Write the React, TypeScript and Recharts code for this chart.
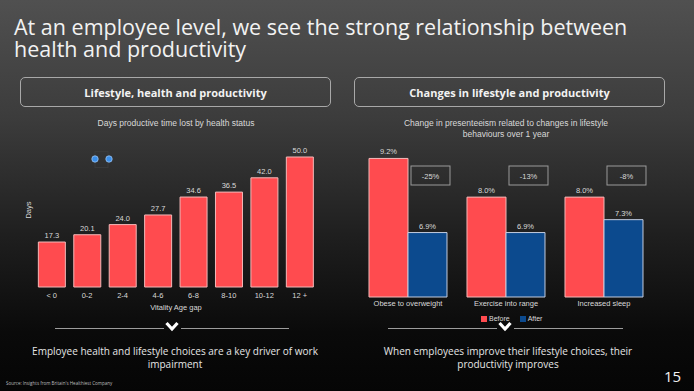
import { Bar, BarChart, LabelList, Legend, XAxis, YAxis } from "recharts";

const ageGaps = ["< 0", "0-2", "2-4", "4-6", "6-8", "8-10", "10-12", "12 +"];
const daysLost = [17.3, 20.1, 24.0, 27.7, 34.6, 36.5, 42.0, 50.0];

const behaviours = ["Obese to overweight", "Exercise into range", "Increased sleep"];
const beforeValues = [9.2, 8.0, 8.0];
const afterValues = [6.9, 6.9, 7.3];
const changeLabels = ["-25%", "-13%", "-8%"];

const RED = "#ff4b4f";
const BLUE = "#0c4a8e";
const TEXT = "#d9d9d9";
const CHART_FONT = "'Liberation Sans', Arial, sans-serif";
const SLIDE_FONT = "'Open Sans', 'Noto Sans', sans-serif";

const daysData = ageGaps.map((gap, i) => ({ gap, days: daysLost[i] }));
const changeData = behaviours.map((name, i) => ({
  name,
  before: beforeValues[i],
  after: afterValues[i],
  change: changeLabels[i],
}));

const legendOrder = ["Before", "After"];

function ChangeBox(props: any) {
  const { x, width, value } = props;
  return (
    <g>
      <rect x={x + 3} y={166} width={width} height={19} fill="none" stroke="#9a9a9a" strokeWidth={1} />
      <text
        x={x + 3 + width / 2}
        y={178.5}
        textAnchor="middle"
        fontSize={7.5}
        fill={TEXT}
        fontFamily={CHART_FONT}
      >
        {value}
      </text>
    </g>
  );
}

function Chevron({ cx }: { cx: number }) {
  return (
    <svg style={{ position: "absolute", left: cx - 7, top: 321, overflow: "visible" }} width={14} height={12}>
      <polyline points="1.5,2 7,8 12.5,2" fill="none" stroke="#ffffff" strokeWidth={3.2} strokeLinejoin="miter" />
    </svg>
  );
}

function Rule({ x1, x2 }: { x1: number; x2: number }) {
  return (
    <div
      style={{
        position: "absolute",
        left: x1,
        top: 327.5,
        width: x2 - x1,
        height: 1.5,
        background: "#9c9c9c",
      }}
    />
  );
}

const centered = (x: number, y: number, extra: React.CSSProperties = {}): React.CSSProperties => ({
  position: "absolute",
  left: x,
  top: y,
  transform: "translate(-50%, -50%)",
  whiteSpace: "nowrap",
  textAlign: "center",
  ...extra,
});

export default function App() {
  const tick = { fill: TEXT, fontSize: 7.5, fontFamily: CHART_FONT };
  const label = { fill: TEXT, fontSize: 7.5, fontFamily: CHART_FONT };
  const titleLine: React.CSSProperties = {
    position: "absolute",
    left: 14,
    fontSize: 21.5,
    lineHeight: "22px",
    whiteSpace: "nowrap",
  };

  return (
    <div
      style={{
        position: "absolute",
        left: 0,
        top: 0,
        width: 694,
        height: 391,
        overflow: "hidden",
        background: "linear-gradient(to bottom, #505050 0%, #3c3c3c 30%, #1f1f1f 60%, #0a0a0a 85%, #050505 100%)",
        fontFamily: SLIDE_FONT,
        color: "#f2f2f2",
      }}
    >
      <div style={{ ...titleLine, top: 15.5 }}>At an employee level, we see the strong relationship between</div>
      <div style={{ ...titleLine, top: 37.5 }}>health and productivity</div>

      {[
        { left: 20, text: "Lifestyle, health and productivity" },
        { left: 354, text: "Changes in lifestyle and productivity" },
      ].map((b) => (
        <div
          key={b.text}
          style={{
            position: "absolute",
            left: b.left,
            top: 77,
            width: 311,
            height: 30,
            boxSizing: "border-box",
            border: "1px solid #a8a8a8",
            borderRadius: 5,
            display: "flex",
            alignItems: "center",
            justifyContent: "center",
            fontWeight: 700,
            fontSize: 11,
          }}
        >
          {b.text}
        </div>
      ))}

      {/* left chart */}
      <div style={centered(176, 123, { fontFamily: CHART_FONT, fontSize: 8.5, color: TEXT })}>
        Days productive time lost by health status
      </div>
      <div style={centered(28, 210, { fontFamily: CHART_FONT, fontSize: 7.5, color: TEXT, transform: "translate(-50%, -50%) rotate(-90deg)" })}>
        Days
      </div>
      <div style={centered(176, 307, { fontFamily: CHART_FONT, fontSize: 7.5, color: TEXT })}>Vitality Age gap</div>

      <svg style={{ position: "absolute", left: 88, top: 151 }} width={28} height={18}>
        <rect x={7} y={0.5} width={13} height={16} fill="none" stroke="#3a3a3a" />
        <circle cx={7} cy={8} r={3.2} fill="#3b8fea" stroke="#9cc4f0" strokeWidth={0.8} />
        <circle cx={21} cy={8} r={3.2} fill="#3b8fea" stroke="#9cc4f0" strokeWidth={0.8} />
      </svg>

      <div style={{ position: "absolute", left: 0, top: 0 }}>
        <BarChart
          width={347}
          height={320}
          data={daysData}
          margin={{ top: 144, right: 29.6, left: 34, bottom: 3 }}
          barCategoryGap="12.3%"
        >
          <XAxis dataKey="gap" axisLine={false} tickLine={false} tickSize={4} tickMargin={2} height={30} tick={tick} interval={0} />
          <YAxis hide domain={[0, 55]} />
          <Bar dataKey="days" fill={RED} stroke="#f3b9b9" strokeWidth={1} isAnimationActive={false}>
            <LabelList dataKey="days" position="top" offset={4} style={label} formatter={(v: any) => Number(v).toFixed(1)} />
          </Bar>
        </BarChart>
      </div>

      {/* right chart */}
      <div style={centered(506, 128.5, { fontFamily: CHART_FONT, fontSize: 8.5, color: TEXT, lineHeight: "11px" })}>
        Change in presenteeism related to changes in lifestyle
        <br />
        behaviours over 1 year
      </div>

      <div style={{ position: "absolute", left: 347, top: 0 }}>
        <BarChart
          width={347}
          height={320}
          data={changeData}
          margin={{ top: 152, right: 41, left: 12, bottom: 3 }}
          barCategoryGap="10.2%"
          barGap={0}
        >
          <XAxis dataKey="name" axisLine={false} tickLine={false} tickSize={2} tickMargin={2} height={20} tick={tick} interval={0} />
          <YAxis hide domain={[4.9, 9.4]} />
          <Legend
            verticalAlign="middle"
            align="center"
            layout="horizontal"
            iconType="square"
            iconSize={6}
            itemSorter={(item: any) => legendOrder.indexOf(item.value)}
            wrapperStyle={{ top: 314, left: 134, width: "auto", fontSize: 7, fontFamily: CHART_FONT, lineHeight: "10px" }}
            formatter={(value: any) => <span style={{ color: TEXT, marginLeft: -2 }}>{value}</span>}
          />
          <Bar dataKey="before" name="Before" fill={RED} stroke="#f3b9b9" strokeWidth={1} isAnimationActive={false}>
            <LabelList dataKey="before" position="top" offset={4} style={label} formatter={(v: any) => `${Number(v).toFixed(1)}%`} />
          </Bar>
          <Bar dataKey="after" name="After" fill={BLUE} stroke="#c4cde0" strokeWidth={1} isAnimationActive={false}>
            <LabelList dataKey="after" position="top" offset={4} style={label} formatter={(v: any) => `${Number(v).toFixed(1)}%`} />
            <LabelList dataKey="change" content={<ChangeBox />} />
          </Bar>
        </BarChart>
      </div>

      {/* takeaways */}
      <Rule x1={55} x2={164} />
      <Chevron cx={172} />
      <Rule x1={181} x2={289} />
      <Rule x1={388} x2={497} />
      <Chevron cx={505} />
      <Rule x1={514} x2={623} />

      <div style={centered(175, 358, { fontSize: 10, lineHeight: "13px", color: "#e6e6e6" })}>
        Employee health and lifestyle choices are a key driver of work
        <br />
        impairment
      </div>
      <div style={centered(508, 358, { fontSize: 10, lineHeight: "13px", color: "#e6e6e6" })}>
        When employees improve their lifestyle choices, their
        <br />
        productivity improves
      </div>

      <div style={{ position: "absolute", left: 6, top: 380, fontSize: 4.5, color: "#bdbdbd", whiteSpace: "nowrap" }}>
        Source: Insights from Britain's Healthiest Company
      </div>
      <div style={{ position: "absolute", left: 664, top: 366, fontSize: 15, color: "#f2f2f2" }}>15</div>
    </div>
  );
}
